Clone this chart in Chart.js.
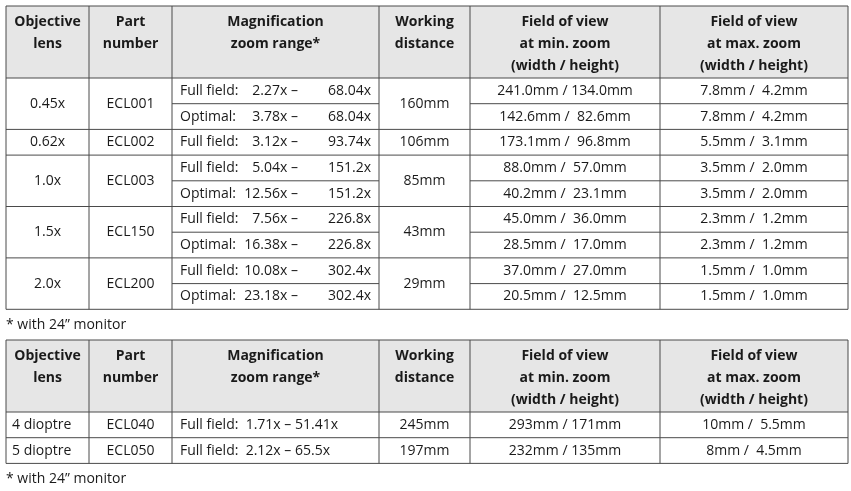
<!DOCTYPE html>
<html>
<head>
<meta charset="utf-8">
<script src="https://cdn.jsdelivr.net/npm/chart.js@4/dist/chart.umd.min.js"></script>
<style>
  html, body { margin: 0; padding: 0; background: #fff; }
</style>
</head>
<body>
<canvas id="chart" width="851" height="491"></canvas>
<script>
'use strict';

// table data
var headers = [
    ['Objective', 'lens'],
    ['Part', 'number'],
    ['Magnification', 'zoom range*'],
    ['Working', 'distance'],
    ['Field of view', 'at min. zoom', '(width / height)'],
    ['Field of view', 'at max. zoom', '(width / height)']
];
var lenses = ['0.45x', '0.62x', '1.0x', '1.5x', '2.0x'];
var parts = ['ECL001', 'ECL002', 'ECL003', 'ECL150', 'ECL200'];
var workDist = ['160mm', '106mm', '85mm', '43mm', '29mm'];
var rowsPerLens = [2, 1, 2, 2, 2];
var magLabels = ['Full field:', 'Optimal:', 'Full field:', 'Full field:', 'Optimal:', 'Full field:', 'Optimal:', 'Full field:', 'Optimal:'];
var magFrom = ['2.27x –', '3.78x –', '3.12x –', '5.04x –', '12.56x –', '7.56x –', '16.38x –', '10.08x –', '23.18x –'];
var magTo = ['68.04x', '68.04x', '93.74x', '151.2x', '151.2x', '226.8x', '226.8x', '302.4x', '302.4x'];
var fovMin = ['241.0mm / 134.0mm', '142.6mm /  82.6mm', '173.1mm /  96.8mm', '88.0mm /  57.0mm', '40.2mm /  23.1mm',
              '45.0mm /  36.0mm', '28.5mm /  17.0mm', '37.0mm /  27.0mm', '20.5mm /  12.5mm'];
var fovMax = ['7.8mm /  4.2mm', '7.8mm /  4.2mm', '5.5mm /  3.1mm', '3.5mm /  2.0mm', '3.5mm /  2.0mm',
              '2.3mm /  1.2mm', '2.3mm /  1.2mm', '1.5mm /  1.0mm', '1.5mm /  1.0mm'];

var lenses2 = ['4 dioptre', '5 dioptre'];
var parts2 = ['ECL040', 'ECL050'];
var mag2 = ['Full field:  1.71x – 51.41x', 'Full field:  2.12x – 65.5x'];
var workDist2 = ['245mm', '197mm'];
var fovMin2 = ['293mm / 171mm', '232mm / 135mm'];
var fovMax2 = ['10mm /  5.5mm', '8mm /  4.5mm'];
var footnote = '* with 24” monitor';

// layout (canvas units, mapped through the chart scales)
var colX = [6, 89, 172, 379, 470, 660, 848];
var headH = 72, rowH = 25.7;
var FONT = '"Open Sans", "Noto Sans", sans-serif';

var tablePlugin = {
    id: 'table',
    afterDraw: function (chart) {
        var ctx = chart.ctx, sx = chart.scales.x, sy = chart.scales.y;
        var X = function (v) { return sx.getPixelForValue(v); };
        var Y = function (v) { return sy.getPixelForValue(v); };
        var mid = function (i) { return (colX[i] + colX[i + 1]) / 2; };

        function text(s, x, y, align, bold) {
            ctx.font = (bold ? 'bold ' : '') + '14px ' + FONT;
            ctx.fillStyle = '#1a1a1a';
            ctx.textAlign = align || 'center';
            ctx.textBaseline = 'middle';
            ctx.fillText(s, X(x), Y(y));
        }
        function hline(y, x0, x1) {
            ctx.beginPath(); ctx.moveTo(X(x0), Y(y)); ctx.lineTo(X(x1), Y(y)); ctx.stroke();
        }
        function vline(x, y0, y1) {
            ctx.beginPath(); ctx.moveTo(X(x), Y(y0)); ctx.lineTo(X(x), Y(y1)); ctx.stroke();
        }
        function header(top) {
            ctx.fillStyle = '#e6e6e6';
            ctx.fillRect(X(colX[0]), Y(top), X(colX[6]) - X(colX[0]), Y(top + headH) - Y(top));
            headers.forEach(function (lines, i) {
                lines.forEach(function (l, j) { text(l, mid(i), top + 16 + j * 22, 'center', true); });
            });
        }

        ctx.save();
        ctx.strokeStyle = '#4a4a4a';
        ctx.lineWidth = 1;

        // table 1
        var top = 6;
        header(top);
        var y = top + headH, r = 0;
        var nRows = magTo.length;
        var bottom = y + nRows * rowH;
        for (var g = 0; g < lenses.length; g++) {
            var gh = rowsPerLens[g] * rowH;
            text(lenses[g], mid(0), y + gh / 2);
            text(parts[g], mid(1), y + gh / 2);
            text(workDist[g], mid(3), y + gh / 2);
            for (var k = 0; k < rowsPerLens[g]; k++) {
                var cy = y + k * rowH + rowH / 2;
                text(magLabels[r], 180, cy, 'left');
                text(magFrom[r], 298, cy, 'right');
                text(magTo[r], 371, cy, 'right');
                text(fovMin[r], mid(4), cy);
                text(fovMax[r], mid(5), cy);
                if (k > 0) { hline(y + k * rowH, colX[2], colX[3]); hline(y + k * rowH, colX[4], colX[6]); }
                r++;
            }
            y += gh;
            hline(y, colX[0], colX[6]);
        }
        hline(top, colX[0], colX[6]);
        hline(top + headH, colX[0], colX[6]);
        colX.forEach(function (c) { vline(c, top, bottom); });
        text(footnote, 6, bottom + 16, 'left');

        // table 2
        top = 340;
        header(top);
        y = top + headH;
        bottom = y + lenses2.length * rowH;
        for (var i = 0; i < lenses2.length; i++) {
            var c2 = y + rowH / 2;
            text(lenses2[i], 12, c2, 'left');
            text(parts2[i], mid(1), c2);
            text(mag2[i], 180, c2, 'left');
            text(workDist2[i], mid(3), c2);
            text(fovMin2[i], mid(4), c2);
            text(fovMax2[i], mid(5), c2);
            y += rowH;
            hline(y, colX[0], colX[6]);
        }
        hline(top, colX[0], colX[6]);
        hline(top + headH, colX[0], colX[6]);
        colX.forEach(function (c) { vline(c, top, bottom); });
        text(footnote, 6, bottom + 16, 'left');

        ctx.restore();
    }
};

var chart = new Chart(document.getElementById('chart').getContext('2d'), {
    type: 'scatter',
    data: { datasets: [{ data: [] }] },
    options: {
        responsive: false,
        animation: false,
        layout: { padding: 0 },
        plugins: { legend: { display: false }, tooltip: { enabled: false } },
        scales: {
            x: { type: 'linear', min: 0, max: 851, display: false },
            y: { type: 'linear', min: 0, max: 491, reverse: true, display: false }
        }
    },
    plugins: [tablePlugin]
});
</script>
</body>
</html>
